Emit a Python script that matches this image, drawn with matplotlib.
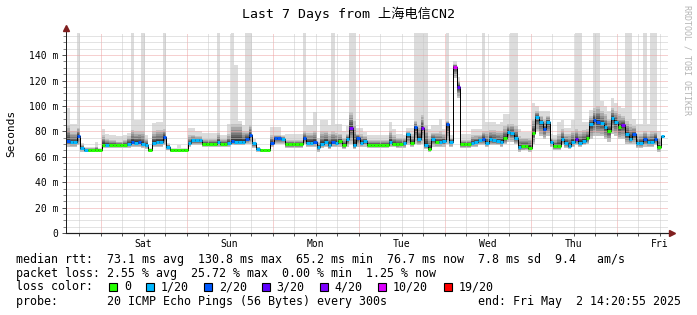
import numpy as np
import matplotlib
matplotlib.use('Agg')
import matplotlib.pyplot as plt
from matplotlib.patches import Rectangle
from matplotlib.ticker import FixedLocator

nan = np.nan

# ---------------- data (1-hour bins, last 7 days) ----------------
median_ms = [72.5, 71.5, 71.5, 76, 67, 65.5, 65, 65, 65.5, 65.5,
             69.5, 69.5, 69.5, 69.5, 69.5, 69.5, 69.5, 70, 72, 71,
             71.5, 70, 69.5, 65.3, 71, 72, 72, 75.3, 68, 65.3,
             65.3, 65.3, 65.3, 65.5, 70.5, 73, 73, 73, 70, 70,
             70, 70, 71.5, 70, 70, 70.5, 72.5, 72, 72, 72,
             74, 77, 70.5, 66.5, 65, 65, 65, 71, 74.5, 74.5,
             74, 69.8, 69.8, 69.8, 69.8, 69.8, 74.5, 71, 71, 71.8,
             67.5, 70, 72, 69.2, 71.5, 71, 72.4, 69.2, 73.8, 83,
             69, 75, 71, 72.5, 69.2, 69.2, 69.2, 69.2, 69.2, 69.2,
             71.8, 70, 69.8, 70, 70.6, 77.6, 71, 83.2, 73.8, 83,
             69, 66, 73.7, 71.8, 71.3, 72.4, 86, 71.8, 130.8, 115,
             69.8, 69.8, 69.8, 70.6, 71.8, 73.3, 74, 70.6, 74, 73,
             72.6, 71.8, 74.5, 79.7, 78.4, 75, 67.4, 68.4, 68.7, 67.2,
             79, 91, 87, 81.8, 87.6, 71.8, 68.7, 68.7, 74, 70.6,
             68.7, 71.8, 73.7, 71, 72.6, 75, 85.5, 88.9, 87.6, 86.3,
             83.2, 80.3, 90.7, 87.6, 83.2, 85, 77.6, 74, 77.6, 70.6,
             70.6, 73.7, 71.3, 71.3, 74, 68, 76.7, nan]

loss_idx = [2, 1, 1, 2, 1, 1, 0, 0, 0, 0,
            0, 1, 0, 0, 0, 0, 0, 1, 2, 1,
            2, 1, 1, 0, 1, 1, 1, 2, 1, 0,
            0, 0, 0, 0, 1, 1, 1, 1, 0, 0,
            0, 0, 1, 0, 0, 1, 2, 1, 1, 1,
            2, 2, 1, 1, 0, 0, 0, 2, 2, 2,
            1, 0, 0, 0, 0, 0, 2, 1, 1, 2,
            1, 1, 1, 1, 2, 1, 0, 0, 1, 4,
            1, 2, 1, 1, 0, 0, 0, 0, 0, 0,
            1, 0, 0, 0, 1, 1, 0, 2, 1, 4,
            1, 0, 1, 0, 1, 1, 2, 1, 5, 3,
            0, 0, 0, 1, 1, 1, 2, 1, 1, 1,
            1, 1, 0, 1, 1, 1, 1, 0, 0, 0,
            0, 1, 1, 2, 1, 1, 0, 0, 1, 1,
            1, 1, 3, 1, 1, 0, 1, 2, 2, 1,
            1, 0, 1, 1, 0, 4, 1, 1, 2, 1,
            1, 2, 1, 1, 2, 0, 1, 0]

smoke_lo = [68, 68, 68, 69, 64, 63.5, 63.5, 63.5, 63.5, 63.5,
            67, 67, 67, 67, 67, 67, 67, 67, 68, 68,
            68, 67, 66, 63.5, 68, 68, 68, 69, 65, 63.5,
            63.5, 63.5, 63.5, 63.5, 68, 69, 69, 69, 68, 68,
            68, 68, 68, 68, 68, 68, 69, 69, 69, 69,
            70, 70, 67, 64, 63.5, 63.5, 63.5, 68, 70, 70,
            70, 67, 67, 67, 67, 67, 70, 68, 68, 68,
            64, 67, 68, 66, 68, 68, 68, 66, 68, 70,
            66, 68, 68, 68, 67, 67, 67, 67, 67, 67,
            68, 68, 67, 67, 67, 69, 68, 70, 69, 70,
            66, 64, 68, 68, 68, 68, 70, 68, 122, 106,
            67, 67, 67, 68, 68, 69, 69, 68, 69, 69,
            69, 68, 70, 72, 72, 70, 64, 65, 65, 64,
            70, 80, 76, 74, 76, 68, 65, 65, 69, 67,
            66, 68, 69, 68, 69, 70, 74, 76, 76, 76,
            74, 72, 78, 76, 74, 74, 70, 70, 70, 67,
            67, 68, 68, 68, 69, 64, 70, nan]

smoke_hi = [85, 80, 80, 83, 70, 67, 67, 67, 68, 66.5,
            77, 74, 73, 73, 72, 72, 73, 76, 81, 80,
            80, 80, 74, 66.5, 80, 81, 81, 82, 70, 66.5,
            66.5, 66.5, 66.5, 66.5, 77, 77, 76, 76, 74, 74,
            74, 74, 78.5, 74, 74, 78, 86, 86, 86, 80,
            80, 85, 72, 67.5, 66, 66, 66, 77, 77, 77,
            76, 73, 73, 73, 73, 73, 80, 79, 79, 80,
            72, 80, 80, 78, 80, 79, 78, 75, 78, 95,
            88, 78, 78, 76, 73, 73, 73, 73, 73, 73,
            80, 77, 75, 75, 75, 80, 78, 88, 85, 93,
            85, 76, 79, 79, 80, 78, 88, 75, 133, 120,
            73, 73, 73, 77, 77, 77, 80, 80, 81, 81,
            80, 80, 84, 86, 86, 84, 76, 75, 75, 75,
            90, 96, 92, 90, 92, 75, 74, 78, 82, 78,
            78, 80, 82, 80, 81, 82, 92, 98, 100, 96,
            94, 90, 98, 96, 94, 92, 88, 86, 84, 78,
            78, 80, 78, 80, 80, 75, 84, nan]

smoke_top = [98, 86, 86, 160, 71, 68, 68, 68, 72, 67,
             82, 78, 77, 77, 76, 76, 77, 79, 160, 89,
             89, 160, 77, 67, 86.5, 87.6, 87.6, 160, 71, 67,
             67, 69, 67, 67, 82.4, 82.4, 80, 80, 78.5, 78.5,
             78.5, 78.5, 160, 77, 77, 86, 160, 132, 88, 85,
             160, 160, 74, 68, 66.5, 66.5, 66.5, 83.3, 83.3, 83.3,
             77, 78, 78, 78, 78, 78, 160, 85, 85, 95,
             74.5, 89, 89, 85, 160, 85.5, 85.5, 80, 84, 160,
             160, 83, 83, 79.5, 77, 77, 77, 77, 77, 77,
             87.5, 82, 78, 78, 77, 83, 83, 160, 160, 160,
             160, 82, 85, 85, 90, 82, 160, 77, 135, 123,
             78, 78, 78, 82, 82, 82, 160, 87, 87, 87,
             86, 87, 94, 94, 160, 160, 82, 79.5, 79.5, 79.5,
             102, 100, 96, 96, 96, 78, 77, 87.5, 89, 83,
             83, 89, 160, 160, 87.5, 87.5, 97, 160, 160, 104,
             100, 96, 106, 102, 100, 98, 160, 160, 90, 86,
             86, 160, 86, 160, 160, 80, 90, nan]

loss_labels = ['0', '1/20', '2/20', '3/20', '4/20', '10/20', '19/20']
loss_colors = ['#26ff00', '#00b8ff', '#0059ff', '#5e00ff', '#7e00ff', '#dd00ff', '#ff0000']
day_labels = ['Sat', 'Sun', 'Mon', 'Tue', 'Wed', 'Thu', 'Fri']
first_midnight_h = 9.652   # hours from graph start (Fri 14:20:55) to Sat 00:00
span_h = 168
ytick_vals = [0, 20, 40, 60, 80, 100, 120, 140]
ytick_labels = ['0', '20 m', '40 m', '60 m', '80 m', '100 m', '120 m', '140 m']

title = 'Last 7 Days from 上海电信CN2'
stat_line1 = 'median rtt:  73.1 ms avg  130.8 ms max  65.2 ms min  76.7 ms now  7.8 ms sd  9.4   am/s'
stat_line2 = 'packet loss: 2.55 % avg  25.72 % max  0.00 % min  1.25 % now'
probe_text = 'probe:       20 ICMP Echo Pings (56 Bytes) every 300s'
end_text = 'end: Fri May  2 14:20:55 2025'

# ---------------- figure ----------------
W, H = 697, 315
fig = plt.figure(figsize=(W / 100, H / 100), dpi=100)
fig.patch.set_facecolor('white')
ax = fig.add_axes([66 / W, 82 / H, 602 / W, 200 / H])
ax.set_facecolor('white')
ax.set_xlim(0, span_h)
ax.set_ylim(0, 157.4)
for s in ax.spines.values():
    s.set_visible(False)

mono = 'DejaVu Sans Mono'
px = 0.72  # one pixel in points

med = np.array(median_ms, dtype=float)
lo = np.array(smoke_lo, dtype=float)
hi = np.array(smoke_hi, dtype=float)
top = np.array(smoke_top, dtype=float)
edges = np.arange(len(med) + 1)

def ext(a):
    return np.append(a, a[-1])

# light grey outer smoke (max pings)
ax.fill_between(edges, ext(lo), ext(top), step='post', color='#dcdcdc', lw=0, zorder=1)
# graded smoke towards the median
fracs = [1.0, 0.8, 0.62, 0.47, 0.34, 0.23, 0.13]
greys = ['#c2c2c2', '#a9a9a9', '#919191', '#7a7a7a', '#636363', '#4e4e4e', '#3c3c3c']
for f, g in zip(fracs, greys):
    lower = med - f * (med - lo)
    upper = med + f * (hi - med)
    ax.fill_between(edges, ext(lower), ext(upper), step='post', color=g, lw=0, zorder=2)

# grid (drawn over the smoke, like rrdtool) - dotted
minor_col = '#c8c8c8'
major_col = '#eea2a2'
dot = (0, (1, 1))
vminor = [first_midnight_h + 6 * k for k in range(-2, 29)]
for v in vminor:
    if 0 < v < span_h:
        is_major = abs(((v - first_midnight_h) / 24) - round((v - first_midnight_h) / 24)) < 1e-6
        ax.axvline(v, color=major_col if is_major else minor_col, lw=px, ls=dot, zorder=3)
for yv in range(5, 160, 5):
    if yv > 157:
        continue
    ax.axhline(yv, color=major_col if yv % 20 == 0 else minor_col, lw=px, ls=dot, zorder=3)

# median line and loss-coloured markers
ax.step(edges, ext(med), where='post', color='black', lw=1.0 * px, zorder=4)
cols = [loss_colors[i] for i in loss_idx[:len(med)]]
ax.hlines(med, edges[:-1], edges[1:], colors=cols, lw=3 * px, zorder=5)

# axes with arrows
axis_col = '#1f1f1f'
arrow_col = '#801f1f'
ax.plot([0, 0], [0, 1.025], transform=ax.transAxes, color=axis_col, lw=px, clip_on=False, zorder=6)
ax.plot([0, 1.006], [0, 0], transform=ax.transAxes, color=axis_col, lw=1.2 * px, clip_on=False, zorder=6)
ax.plot([0], [1.025], transform=ax.transAxes, marker='^', ms=5, color=arrow_col, clip_on=False, zorder=7)
ax.plot([1.006], [0], transform=ax.transAxes, marker='>', ms=5, color=arrow_col, clip_on=False, zorder=7)

# ticks
ax.set_yticks(ytick_vals)
ax.set_yticklabels(ytick_labels, fontfamily=mono, fontsize=7)
ax.yaxis.set_minor_locator(FixedLocator([v for v in range(5, 157, 5) if v % 20]))
ax.tick_params(axis='y', which='major', length=3, width=px, color='#555555', pad=2.5)
ax.tick_params(axis='y', which='minor', length=2, width=px, color='#888888')

noon = [first_midnight_h + 12 + 24 * d for d in range(len(day_labels))]
ax.set_xticks(noon)
ax.set_xticklabels(day_labels, fontfamily=mono, fontsize=7)
ax.xaxis.remove_overlapping_locs = False
ax.xaxis.set_minor_locator(FixedLocator([v for v in vminor if 0 < v < span_h]))
ax.tick_params(axis='x', which='major', length=0, pad=4)
ax.tick_params(axis='x', which='minor', length=2.5, width=px, color='#555555')

# texts
def ftext(x, y, s, **kw):
    fig.text(x / W, 1 - y / H, s, **kw)

ftext(348, 14, title, ha='center', va='center', fontsize=9.5,
      fontfamily=[mono, 'Noto Sans CJK SC'])
ftext(11, 133, 'Seconds', ha='center', va='center', rotation=90, fontsize=8, fontfamily=mono)
ftext(687, 60, 'RRDTOOL / TOBI OETIKER', ha='center', va='center', rotation=270,
      fontsize=6, fontfamily=mono, color='#b4b4b4')

fs = 8.37
ftext(16, 259, stat_line1, ha='left', va='center', fontsize=fs, fontfamily=mono)
ftext(16, 273, stat_line2, ha='left', va='center', fontsize=fs, fontfamily=mono)

ftext(16, 287, 'loss color:', ha='left', va='center', fontsize=fs, fontfamily=mono)
sq_x = [109, 146, 204, 262, 320, 378, 444]
lab_x = [124, 160.7, 219, 276, 334.7, 392.5, 458.4]
for sx, lx, c, lab in zip(sq_x, lab_x, loss_colors, loss_labels):
    fig.patches.append(Rectangle((sx / W, 1 - 291 / H), 8 / W, 8 / H, transform=fig.transFigure,
                                 facecolor=c, edgecolor='black', lw=0.8))
    ftext(lx, 287, lab, ha='left', va='center', fontsize=fs, fontfamily=mono)

ftext(16, 301, probe_text, ha='left', va='center', fontsize=fs, fontfamily=mono)
ftext(681, 301, end_text, ha='right', va='center', fontsize=fs, fontfamily=mono)

fig.savefig('out.png', dpi=100, facecolor='white')
